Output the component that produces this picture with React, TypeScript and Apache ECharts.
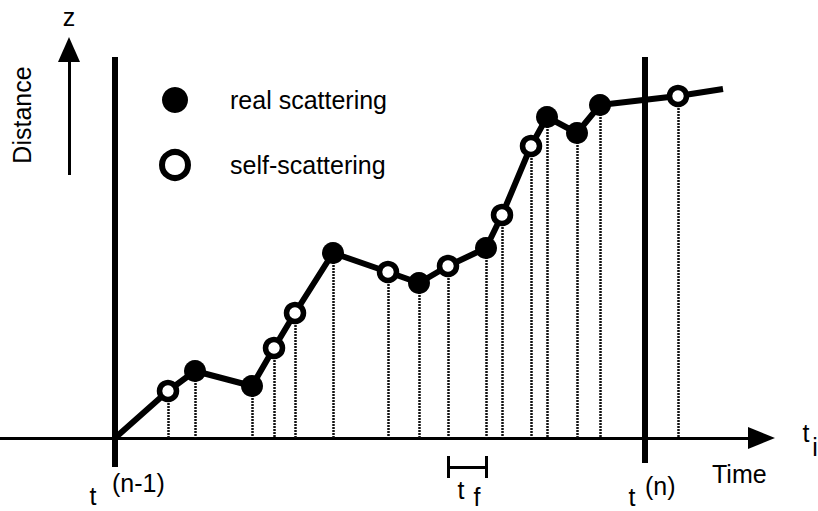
import React, { useEffect, useRef } from "react";
import * as echarts from "echarts";

// Scattering events along the trajectory (time units, distance units)
const eventTime = [5.3, 8.0, 13.7, 15.9, 18.0, 21.8, 27.3, 30.4, 33.3, 37.1, 38.7, 41.6, 43.2, 46.2, 48.5, 56.3];
const eventDistance = [4.7, 6.7, 5.2, 9.0, 12.5, 18.5, 16.6, 15.5, 17.2, 19.0, 22.3, 29.2, 32.1, 30.5, 33.3, 34.2];
const eventKind = ["self", "real", "real", "self", "self", "real", "self", "real", "self", "real", "self", "self", "real", "real", "real", "self"];
const pathStart = [0, 0];
const pathEnd = [60.8, 34.9];
// time steps t(n-1), t(n)
const stepTimes = [0, 53.0];
const stepTop = 38.1;
const stepBottoms = [-2.9, -2.5];
// free flight time t_f bracket
const flightStart = 33.3;
const flightEnd = 37.1;
const legendNames = ["real scattering", "self-scattering"];

const FONT = "'Liberation Sans', Arial, Helvetica, sans-serif";

export default function App() {
  const ref = useRef<HTMLDivElement>(null);
  useEffect(() => {
    if (!ref.current) return;
    const chart = echarts.init(ref.current, undefined, { renderer: "svg" });

    const pathData = [pathStart, ...eventTime.map((t, i) => [t, eventDistance[i]]), pathEnd];
    const realData = eventTime.map((t, i) => [t, eventDistance[i]]).filter((_, i) => eventKind[i] === "real");
    const selfData = eventTime.map((t, i) => [t, eventDistance[i]]).filter((_, i) => eventKind[i] === "self");
    const dropLines = eventTime.map((t, i) => [{ coord: [t, eventDistance[i]] }, { coord: [t, 0] }]);
    const stepLines = stepTimes.map((t, i) => [{ coord: [t, stepTop] }, { coord: [t, stepBottoms[i]] }]);
    const bracketY = -2.9;
    const bracketLines = [
      [{ coord: [flightStart, bracketY] }, { coord: [flightEnd, bracketY] }],
      [{ coord: [flightStart, -1.8] }, { coord: [flightStart, -4.0] }],
      [{ coord: [flightEnd, -1.8] }, { coord: [flightEnd, -4.0] }],
    ];

    const txt = (text: string, x: number, y: number, align = "center", extra: any = {}) => ({
      type: "text",
      x,
      y,
      silent: true,
      ...extra,
      style: {
        text,
        fill: "#000",
        font: `25px ${FONT}`,
        textAlign: align,
        textVerticalAlign: "middle",
        align,
        verticalAlign: "middle",
      },
    });

    chart.setOption({
      animation: false,
      grid: { left: 0, right: 56.5, top: 0, bottom: 0 },
      xAxis: {
        type: "value",
        min: -11.5,
        max: 64.65,
        splitLine: { show: false },
        axisTick: { show: false },
        axisLabel: { show: false },
        axisLine: {
          show: true,
          onZero: true,
          lineStyle: { color: "#000", width: 3 },
          symbol: ["none", "triangle"],
          symbolSize: [22, 27],
        },
      },
      yAxis: { type: "value", min: -7.3, max: 43.8, show: false },
      legend: {
        orient: "vertical",
        left: 159,
        top: 87,
        padding: 0,
        itemWidth: 100,
        itemHeight: 26,
        itemGap: 36,
        selectedMode: false,
        textStyle: { fontSize: 25, fontFamily: FONT, color: "#000" },
        data: [
          { name: legendNames[0], icon: "circle", itemStyle: { color: "#000" } },
          { name: legendNames[1], icon: "circle", itemStyle: { color: "#fff", borderColor: "#000", borderWidth: 6 } },
        ],
      },
      series: [
        {
          type: "line",
          name: "drops",
          data: [],
          z: 1,
          silent: true,
          markLine: {
            z: 1,
            silent: true,
            symbol: "none",
            label: { show: false },
            lineStyle: { color: "#111", width: 2.5, type: [2, 1] },
            emphasis: { disabled: true },
            data: dropLines,
          },
        },
        {
          type: "line",
          name: "trajectory",
          data: pathData,
          symbol: "none",
          showSymbol: false,
          z: 2,
          silent: true,
          lineStyle: { color: "#000", width: 6 },
        },
        {
          type: "line",
          name: "steps",
          data: [],
          z: 2,
          silent: true,
          markLine: {
            z: 2,
            silent: true,
            symbol: "none",
            label: { show: false },
            emphasis: { disabled: true },
            lineStyle: { color: "#000", width: 6, type: "solid" },
            data: stepLines,
          },
        },
        {
          type: "line",
          name: "bracket",
          data: [],
          z: 2,
          silent: true,
          markLine: {
            z: 2,
            silent: true,
            symbol: "none",
            label: { show: false },
            emphasis: { disabled: true },
            lineStyle: { color: "#000", width: 3, type: "solid" },
            data: bracketLines,
          },
        },
        {
          type: "line",
          name: "zaxis",
          data: [],
          z: 2,
          silent: true,
          markLine: {
            z: 2,
            silent: true,
            symbol: ["none", "triangle"],
            symbolSize: [22, 25],
            label: { show: false },
            emphasis: { disabled: true },
            lineStyle: { color: "#000", width: 3, type: "solid" },
            data: [[{ coord: [-4.6, 26.3] }, { coord: [-4.6, 38.85] }]],
          },
        },
        {
          type: "scatter",
          name: legendNames[0],
          data: realData,
          symbol: "circle",
          symbolSize: 22,
          z: 3,
          silent: true,
          itemStyle: { color: "#000", opacity: 1 },
        },
        {
          type: "scatter",
          name: legendNames[1],
          data: selfData,
          symbol: "circle",
          symbolSize: 17,
          z: 3,
          silent: true,
          itemStyle: { color: "#fff", borderColor: "#000", borderWidth: 5.5, opacity: 1 },
        },
      ],
      graphic: [
        txt("z", 69, 17),
        txt("Distance", 22, 115, "center", { rotation: Math.PI / 2 }),
        txt("t", 93, 496),
        txt("(n-1)", 112, 483, "left"),
        txt("t", 632, 497),
        txt("(n)", 645, 486, "left"),
        txt("t", 461, 490),
        txt("f", 477, 497),
        txt("t", 806, 433),
        txt("i", 815, 447),
        txt("Time", 712, 474, "left"),
      ],
    });
    return () => chart.dispose();
  }, []);
  return (
    <div
      ref={ref}
      style={{ position: "absolute", left: 0, top: 0, width: 818, height: 511, background: "#fff" }}
    />
  );
}
